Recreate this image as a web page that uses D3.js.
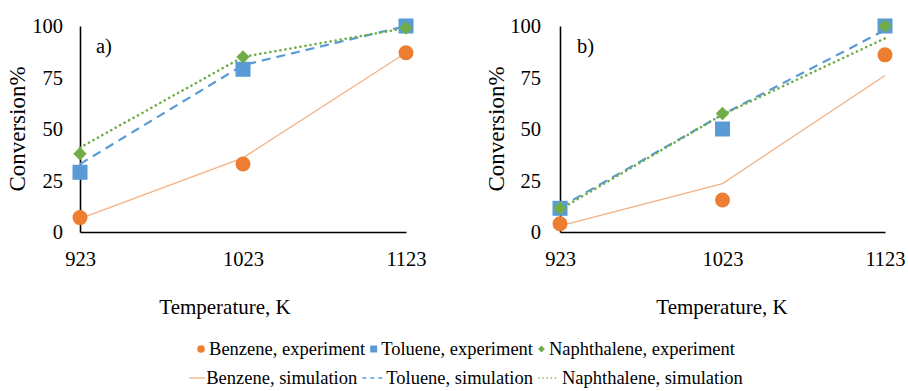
<!DOCTYPE html>
<html>
<head>
<meta charset="utf-8">
<script src="https://cdn.jsdelivr.net/npm/d3@7"></script>
<style>
  html, body { margin: 0; padding: 0; background: #fff; }
  svg { display: block; }
</style>
</head>
<body>
<svg id="chart" width="908" height="391"></svg>
<script>
// Temperatures (K) on the x axis
const temperatures = [923, 1023, 1123];
const yTicks = [0, 25, 50, 75, 100];

// Panel a) conversion, %
const aBenzeneExp = [7, 33, 87];
const aTolueneExp = [29, 79, 100];
const aNaphthaleneExp = [38, 85, 99];
const aBenzeneSim = [6.5, 36, 87];
const aTolueneSim = [33, 81, 100];
const aNaphthaleneSim = [41, 85, 99];

// Panel b) conversion, %
const bBenzeneExp = [4, 15.5, 86];
const bTolueneExp = [11.5, 50, 100];
const bNaphthaleneExp = [11.5, 57.5, 100];
const bBenzeneSim = [3, 23.5, 76];
const bTolueneSim = [12, 57, 98];
const bNaphthaleneSim = [11, 57, 94];

const ORANGE = "#ED7D31", BLUE = "#5B9BD5", GREEN = "#70AD47", LIGHT_ORANGE = "#F4B183";
const FONT = "'Liberation Serif', 'Times New Roman', 'DejaVu Serif', serif";

const svg = d3.select("#chart").attr("font-family", FONT);
svg.append("rect").attr("width", 908).attr("height", 391).attr("fill", "#fff");

function txt(sel, size) {
  return sel.style("font-family", FONT).style("font-size", size).attr("fill", "#000");
}

function panel(opts) {
  const x = d3.scaleLinear().domain([923, 1123]).range([opts.x0, opts.x1]);
  const y = d3.scaleLinear().domain([0, 100]).range([232, 26]);
  const g = svg.append("g");

  // axes: plain lines with no tick marks
  const yAxis = d3.axisLeft(y).tickValues(yTicks).tickSize(0).tickPadding(opts.yPad);
  const ya = g.append("g").attr("transform", `translate(${opts.x0},0)`).call(yAxis)
    .attr("font-family", FONT);
  ya.select(".domain").attr("stroke", "#000").attr("stroke-width", 1.6);
  txt(ya.selectAll("text"), "20.5px");

  const xAxis = d3.axisBottom(x).tickValues(temperatures).tickSize(0).tickPadding(19).tickFormat(d3.format("d"));
  const xa = g.append("g").attr("transform", `translate(0,232)`).call(xAxis)
    .attr("font-family", FONT);
  xa.select(".domain").attr("stroke", "#000").attr("stroke-width", 1.6);
  txt(xa.selectAll("text"), "20.5px");

  // titles
  txt(g.append("text").attr("x", opts.titleX).attr("y", 314).attr("text-anchor", "middle"), "21px")
    .text("Temperature, K");
  txt(g.append("text").attr("transform", `translate(${opts.yTitleX},129) rotate(-90)`)
    .attr("text-anchor", "middle"), "23px").text("Conversion%");
  txt(g.append("text").attr("x", opts.x0 + opts.labelDx).attr("y", 53), "20.5px").text(opts.label);

  const line = d3.line().x((d, i) => x(temperatures[i])).y(d => y(d));

  g.append("path").datum(opts.bSim).attr("d", line).attr("fill", "none")
    .attr("stroke", LIGHT_ORANGE).attr("stroke-width", 1.3);
  g.append("path").datum(opts.tSim).attr("d", line).attr("fill", "none")
    .attr("stroke", BLUE).attr("stroke-width", 2.2).attr("stroke-dasharray", "9,6");
  g.append("path").datum(opts.nSim).attr("d", line).attr("fill", "none")
    .attr("stroke", GREEN).attr("stroke-width", 2.6).attr("stroke-dasharray", "0.1,5")
    .attr("stroke-linecap", "round");

  g.selectAll(".bexp").data(opts.bExp).join("circle")
    .attr("cx", (d, i) => x(temperatures[i])).attr("cy", d => y(d)).attr("r", 7.5)
    .attr("fill", ORANGE);
  g.selectAll(".texp").data(opts.tExp).join("rect")
    .attr("x", (d, i) => x(temperatures[i]) - 7.5).attr("y", d => y(d) - 7.5)
    .attr("width", 15).attr("height", 15).attr("fill", BLUE);
  const diamond = d3.symbol().type(d3.symbolDiamond2).size(115);
  g.selectAll(".nexp").data(opts.nExp).join("path")
    .attr("d", diamond)
    .attr("transform", (d, i) => `translate(${x(temperatures[i])},${y(d)})`)
    .attr("fill", GREEN);
}

panel({ x0: 80, x1: 406, yPad: 17, titleX: 225, yTitleX: 25, label: "a)", labelDx: 16,
  bExp: aBenzeneExp, tExp: aTolueneExp, nExp: aNaphthaleneExp,
  bSim: aBenzeneSim, tSim: aTolueneSim, nSim: aNaphthaleneSim });
panel({ x0: 560, x1: 885, yPad: 19, titleX: 722, yTitleX: 504, label: "b)", labelDx: 17,
  bExp: bBenzeneExp, tExp: bTolueneExp, nExp: bNaphthaleneExp,
  bSim: bBenzeneSim, tSim: bTolueneSim, nSim: bNaphthaleneSim });

// legend
const legendRows = [
  { y: 349, items: [
    { kind: "circle", color: ORANGE, text: "Benzene, experiment" },
    { kind: "square", color: BLUE, text: "Toluene, experiment" },
    { kind: "diamond", color: GREEN, text: "Naphthalene, experiment" }] },
  { y: 378, items: [
    { kind: "solid", color: LIGHT_ORANGE, text: "Benzene, simulation" },
    { kind: "dash", color: BLUE, text: "Toluene, simulation" },
    { kind: "dot", color: GREEN, text: "Naphthalene, simulation" }] }
];
const legendFont = "18.5px";
const symW = { circle: 8, square: 7, diamond: 7, solid: 16, dash: 20, dot: 20 };
legendRows.forEach(row => {
  const g = svg.append("g");
  let cx = 0;
  row.items.forEach((it, k) => {
    if (k > 0) cx += 5;
    const w = symW[it.kind];
    const my = row.y;
    if (it.kind === "circle") g.append("circle").attr("cx", cx + w / 2).attr("cy", my).attr("r", 3.8).attr("fill", it.color);
    if (it.kind === "square") g.append("rect").attr("x", cx).attr("y", my - 3.5).attr("width", 7).attr("height", 7).attr("fill", it.color);
    if (it.kind === "diamond") g.append("path").attr("d", d3.symbol().type(d3.symbolDiamond2).size(30)).attr("transform", `translate(${cx + w / 2},${my})`).attr("fill", it.color);
    if (it.kind === "solid") g.append("line").attr("x1", cx).attr("x2", cx + w).attr("y1", my).attr("y2", my).attr("stroke", it.color).attr("stroke-width", 1.3);
    if (it.kind === "dash") g.append("line").attr("x1", cx).attr("x2", cx + w).attr("y1", my).attr("y2", my).attr("stroke", it.color).attr("stroke-width", 1.3).attr("stroke-dasharray", "4,4");
    if (it.kind === "dot") g.append("line").attr("x1", cx + 1).attr("x2", cx + w).attr("y1", my).attr("y2", my).attr("stroke", it.color).attr("stroke-width", 1.6).attr("stroke-dasharray", "0.1,4").attr("stroke-linecap", "round");
    cx += w + (it.kind === "solid" ? 1 : 4);
    const t = txt(g.append("text").attr("x", cx).attr("y", my + 6), legendFont).text(it.text);
    cx += t.node().getComputedTextLength();
  });
  g.attr("transform", `translate(${466 - cx / 2},0)`);
});
</script>
</body>
</html>
